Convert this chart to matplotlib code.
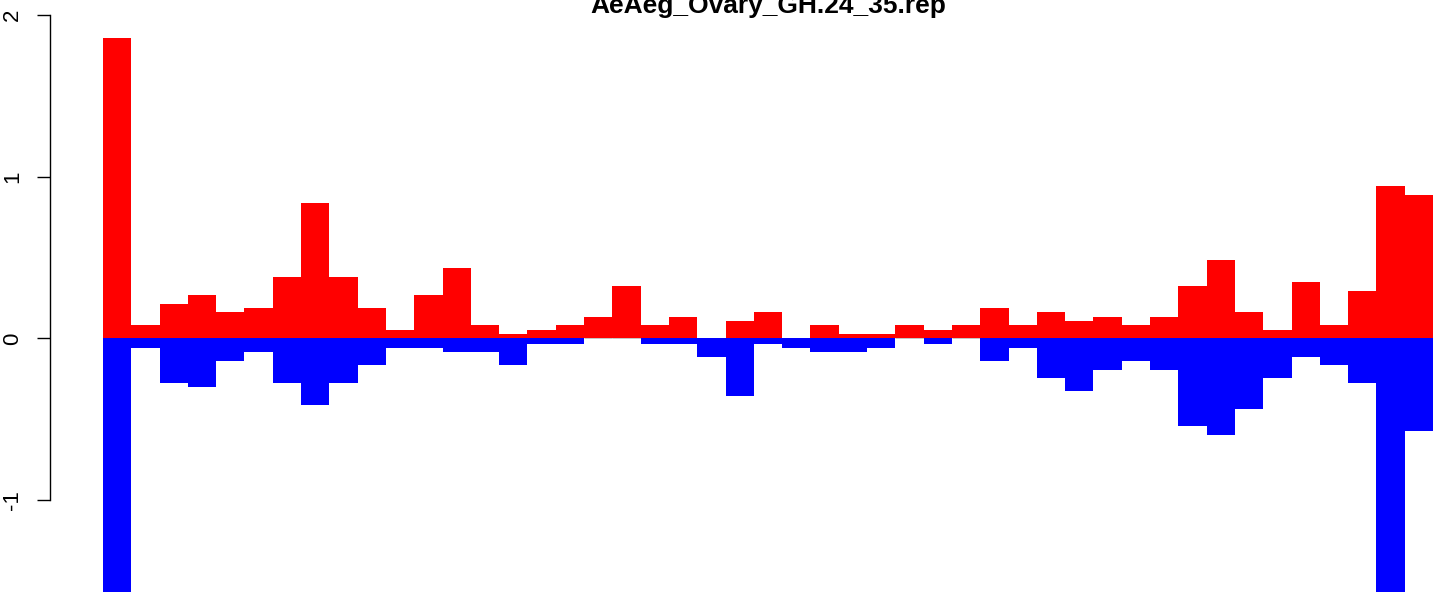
import numpy as np
import matplotlib.pyplot as plt

# Verdier lest av figuren, en stolpe per posisjon
pos = [1.858, 0.083, 0.213, 0.268, 0.163, 0.188, 0.380, 0.837, 0.380, 0.188,
       0.052, 0.268, 0.433, 0.083, 0.027, 0.052, 0.083, 0.132, 0.324, 0.083,
       0.132, 0.0, 0.108, 0.163, 0.0, 0.083, 0.027, 0.027, 0.083, 0.052,
       0.083, 0.188, 0.083, 0.163, 0.108, 0.132, 0.083, 0.132, 0.324, 0.485,
       0.163, 0.052, 0.349, 0.083, 0.293, 0.943, 0.887]
neg = [-1.70, -0.059, -0.274, -0.300, -0.140, -0.084, -0.274, -0.412, -0.274, -0.165,
       -0.059, -0.059, -0.084, -0.084, -0.165, -0.034, -0.034, 0.0, 0.0, -0.034,
       -0.034, -0.114, -0.356, -0.034, -0.059, -0.084, -0.084, -0.059, 0.0, -0.034,
       0.0, -0.140, -0.059, -0.245, -0.325, -0.196, -0.140, -0.196, -0.542, -0.597,
       -0.437, -0.245, -0.114, -0.165, -0.276, -1.70, -0.573]
yticks = [-1, 0, 1, 2]
ylabels = ['-1', '0', '1', '2']
title = 'AeAeg_Ovary_GH.24_35.rep'

plt.rcParams['font.family'] = ['Liberation Sans', 'DejaVu Sans']

x = np.arange(len(pos))
fig = plt.figure(figsize=(14.41, 5.92), dpi=100)
ax = fig.add_axes([103 / 1441, 0, 1330 / 1441, 1])

edge_p = ['#888888' if v == 0 else 'none' for v in pos]
edge_n = ['#bbbbbb' if v == 0 else 'none' for v in neg]
ax.bar(x, pos, width=1.0, color='#ff0000', edgecolor=edge_p, linewidth=0.6)
ax.bar(x, neg, width=1.0, color='#0000ff', edgecolor=edge_n, linewidth=0.6)

ax.set_xlim(-0.5, len(pos) - 0.5)
ax.set_ylim(-1.568, 2.093)

# R-aktig akse: bare venstre, flyttet ut og begrenset til tikkene
for s in ['top', 'right', 'bottom']:
    ax.spines[s].set_visible(False)
ax.spines['left'].set_position(('outward', 38.2))
ax.spines['left'].set_bounds(yticks[0], yticks[-1])
ax.spines['left'].set_linewidth(1.0)
ax.set_xticks([])
ax.set_yticks(yticks)
ax.set_yticklabels(ylabels, rotation=90, va='center')
ax.tick_params(axis='y', length=9.4, width=1.0, pad=10, labelsize=16)

fig.text(768 / 1441, 1 - 13 / 592, title, ha='center', va='baseline',
         fontsize=19, fontweight='bold')

fig.savefig('out.png', dpi=100)
